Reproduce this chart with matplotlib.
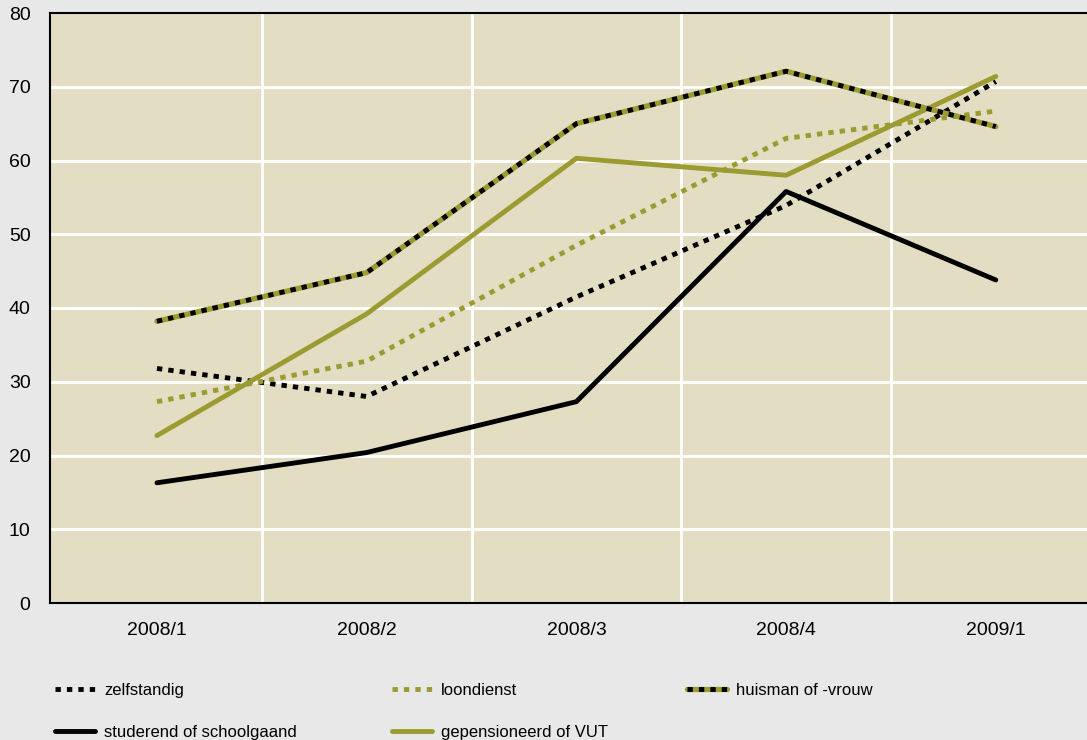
import matplotlib
matplotlib.use("Agg")
import matplotlib.pyplot as plt
from matplotlib.legend_handler import HandlerTuple

plt.rcParams['font.family'] = ['Liberation Sans', 'DejaVu Sans']

categories = ["2008/1", "2008/2", "2008/3", "2008/4", "2009/1"]
zelfstandig = [31.8, 28.0, 41.5, 53.9, 70.7]
loondienst = [27.3, 32.8, 48.5, 63.0, 66.7]
huisman = [38.2, 44.8, 65.0, 72.1, 64.6]
studerend = [16.3, 20.4, 27.3, 55.8, 43.8]
gepensioneerd = [22.7, 39.2, 60.3, 58.0, 71.4]
yticks = [0, 10, 20, 30, 40, 50, 60, 70, 80]

BG = "#e8e8e8"
AX = "#e3dec3"
OLIVE = "#9b9b32"
LW = 3.5
DOT = (0, (1.1, 1.25))

fig = plt.figure(figsize=(10.87, 7.40), dpi=100, facecolor=BG)
ax = fig.add_axes([50/1087, 137/740, 1 - 50/1087 + 0.001, (603-13)/740])
ax.set_facecolor(AX)

x = list(range(len(categories)))

# grid
for gx in [0.5, 1.5, 2.5, 3.5]:
    ax.axvline(gx, color="white", lw=2, zorder=1)
for gy in yticks[1:-1]:
    ax.axhline(gy, color="white", lw=2, zorder=1)

l_zelf, = ax.plot(x, zelfstandig, color="black", lw=LW, linestyle=DOT,
                  dash_capstyle="butt", zorder=3)
l_loon, = ax.plot(x, loondienst, color=OLIVE, lw=LW, linestyle=DOT,
                  dash_capstyle="butt", zorder=3)
l_hu1, = ax.plot(x, huisman, color=OLIVE, lw=LW + 0.3, solid_capstyle="round",
                 solid_joinstyle="round", zorder=3)
l_hu2, = ax.plot(x, huisman, color="black", lw=LW, linestyle=DOT,
                 dash_capstyle="butt", zorder=4)
l_stud, = ax.plot(x, studerend, color="black", lw=LW, solid_capstyle="round",
                  zorder=3)
l_gep, = ax.plot(x, gepensioneerd, color=OLIVE, lw=LW, solid_capstyle="round",
                 zorder=3)

ax.set_xlim(-0.51, 4.44)
ax.set_ylim(0, 80)
ax.set_yticks(yticks)
ax.set_xticks(x)
ax.set_xticklabels(categories)
ax.tick_params(axis="both", length=0, labelsize=14, colors="black")
ax.tick_params(axis="y", pad=14)
ax.tick_params(axis="x", pad=14)
for s in ["left", "bottom", "top"]:
    ax.spines[s].set_color("black")
    ax.spines[s].set_linewidth(1.5)
ax.spines["right"].set_visible(False)

common = dict(frameon=False, fontsize=12, handlelength=2.4, handletextpad=0.55,
              labelspacing=1.6, borderpad=0, borderaxespad=0)

leg1 = fig.legend([l_zelf, l_stud], ["zelfstandig", "studerend of schoolgaand"],
                  loc="upper left", bbox_to_anchor=(55/1087, 1 - 683/740), **common)
leg2 = fig.legend([l_loon, l_gep], ["loondienst", "gepensioneerd of VUT"],
                  loc="upper left", bbox_to_anchor=(392/1087, 1 - 683/740), **common)
leg3 = fig.legend([(l_hu1, l_hu2)], ["huisman of -vrouw"],
                  handler_map={tuple: HandlerTuple(ndivide=1, pad=0)},
                  loc="upper left", bbox_to_anchor=(687/1087, 1 - 683/740), **common)

fig.savefig("out.png", dpi=100, facecolor=BG)
